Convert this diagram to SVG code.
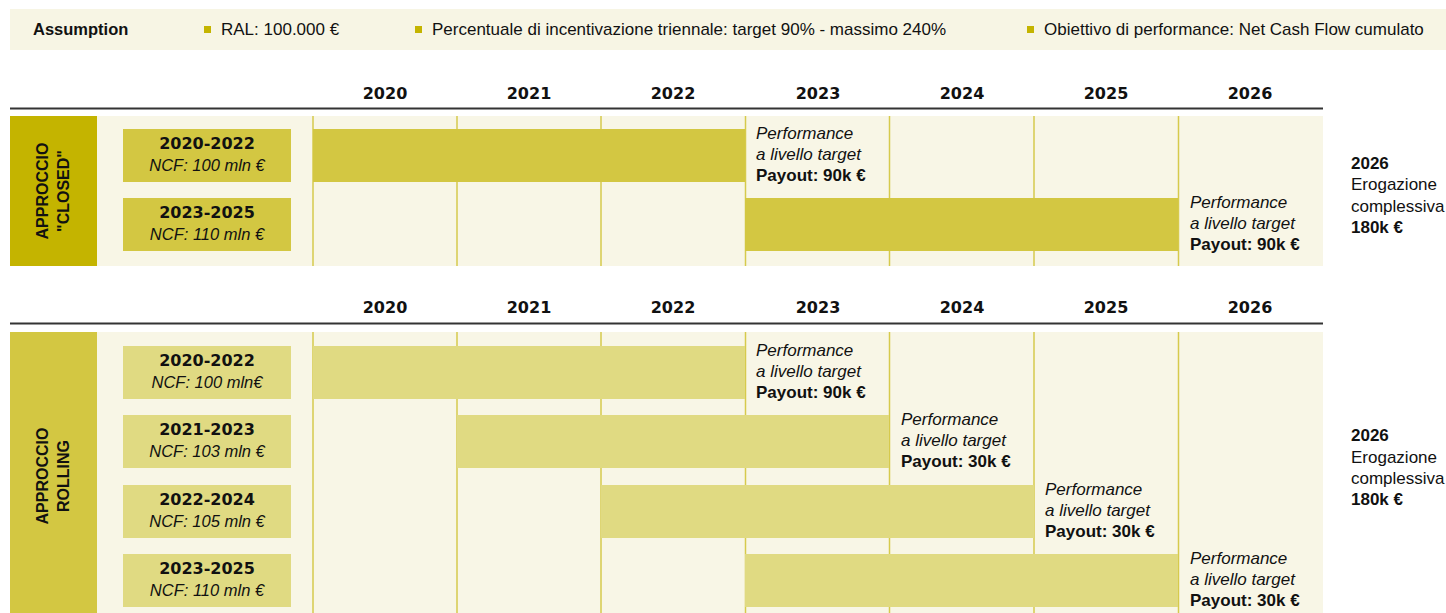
<svg xmlns="http://www.w3.org/2000/svg" width="1446" height="613" viewBox="0 0 1446 613">
<style>
text{font-family:"Liberation Sans",Arial,sans-serif;fill:#111}
.b{font-weight:bold}
.i{font-style:italic}
.w{font-family:"DejaVu Sans","Liberation Sans",sans-serif;font-weight:bold}
.yr{font-size:16px;text-anchor:middle}
.hdr{font-size:17px}
.lbt{font-size:16px;text-anchor:middle}
.lbi{font-size:16.5px;text-anchor:middle;font-style:italic}
.perf{font-size:17px}
.side{font-weight:bold;font-size:16px;text-anchor:middle}
.cream{fill:#f8f6e6}
.dk{fill:#c4b400}
.mid{fill:#d3c742}
.lt{fill:#e0da82}
.vl{stroke:#d6ca4c;stroke-width:1.5}
.hl{stroke:#333;stroke-width:2}
</style>

<!-- Assumption banner -->
<g id="banner">
<rect x="10" y="9" width="1436" height="41" fill="#f7f5e4"/>
<text x="33" y="35" class="b" font-size="16.5">Assumption</text>
<rect x="204" y="26" width="7" height="7" fill="#c4b400"/>
<text x="221" y="35" class="hdr">RAL: 100.000 €</text>
<rect x="415" y="26" width="7" height="7" fill="#c4b400"/>
<text x="432" y="35" class="hdr">Percentuale di incentivazione triennale: target 90% - massimo 240%</text>
<rect x="1027" y="26" width="7" height="7" fill="#c4b400"/>
<text x="1044" y="35" class="hdr">Obiettivo di performance: Net Cash Flow cumulato</text>
</g>

<!-- Section 1: closed -->
<g id="closed-header">
<text x="385" y="98.5" class="yr w">2020</text>
<text x="529" y="98.5" class="yr w">2021</text>
<text x="673" y="98.5" class="yr w">2022</text>
<text x="818" y="98.5" class="yr w">2023</text>
<text x="962" y="98.5" class="yr w">2024</text>
<text x="1106" y="98.5" class="yr w">2025</text>
<text x="1250" y="98.5" class="yr w">2026</text>
<line x1="10" y1="108.5" x2="1323" y2="108.5" class="hl"/>
</g>
<g id="closed-bg">
<rect x="97" y="116" width="1226" height="150" class="cream"/>
<g class="vl">
<line x1="313" y1="116" x2="313" y2="266"/>
<line x1="457" y1="116" x2="457" y2="266"/>
<line x1="601" y1="116" x2="601" y2="266"/>
<line x1="745.5" y1="116" x2="745.5" y2="266"/>
<line x1="889.5" y1="116" x2="889.5" y2="266"/>
<line x1="1034" y1="116" x2="1034" y2="266"/>
<line x1="1178.5" y1="116" x2="1178.5" y2="266"/>
</g>
</g>
<g id="closed-label">
<rect x="10" y="116" width="87" height="150" class="dk"/>
<text transform="translate(48,191) rotate(-90)" class="side">APPROCCIO</text>
<text transform="translate(69,191) rotate(-90)" class="side">"CLOSED"</text>
</g>
<g id="closed-row1">
<rect x="123" y="129" width="168" height="53" class="mid"/>
<text x="207" y="149" class="lbt w">2020-2022</text>
<text x="207" y="171" class="lbi">NCF: 100 mln €</text>
<rect x="313" y="129" width="432" height="53" class="mid"/>
<text x="756" y="139" class="perf i">Performance</text>
<text x="756" y="160" class="perf i">a livello target</text>
<text x="756" y="181" class="perf b">Payout: 90k €</text>
</g>
<g id="closed-row2">
<rect x="123" y="198" width="168" height="53" class="mid"/>
<text x="207" y="218" class="lbt w">2023-2025</text>
<text x="207" y="240" class="lbi">NCF: 110 mln €</text>
<rect x="745" y="198" width="433" height="53" class="mid"/>
<text x="1190" y="208" class="perf i">Performance</text>
<text x="1190" y="229" class="perf i">a livello target</text>
<text x="1190" y="250" class="perf b">Payout: 90k €</text>
</g>
<g id="closed-total">
<text x="1351" y="169" class="perf b">2026</text>
<text x="1351" y="190" class="perf">Erogazione</text>
<text x="1351" y="212" class="perf">complessiva</text>
<text x="1351" y="233" class="perf b">180k €</text>
</g>

<!-- Section 2: rolling -->
<g id="rolling-header">
<text x="385" y="313" class="yr w">2020</text>
<text x="529" y="313" class="yr w">2021</text>
<text x="673" y="313" class="yr w">2022</text>
<text x="818" y="313" class="yr w">2023</text>
<text x="962" y="313" class="yr w">2024</text>
<text x="1106" y="313" class="yr w">2025</text>
<text x="1250" y="313" class="yr w">2026</text>
<line x1="10" y1="323.5" x2="1323" y2="323.5" class="hl"/>
</g>
<g id="rolling-bg">
<rect x="97" y="332" width="1226" height="281" class="cream"/>
<g class="vl">
<line x1="313" y1="332" x2="313" y2="613"/>
<line x1="457" y1="332" x2="457" y2="613"/>
<line x1="601" y1="332" x2="601" y2="613"/>
<line x1="745.5" y1="332" x2="745.5" y2="613"/>
<line x1="889.5" y1="332" x2="889.5" y2="613"/>
<line x1="1034" y1="332" x2="1034" y2="613"/>
<line x1="1178.5" y1="332" x2="1178.5" y2="613"/>
</g>
</g>
<g id="rolling-label">
<rect x="10" y="332" width="87" height="281" class="mid"/>
<text transform="translate(48,476) rotate(-90)" class="side">APPROCCIO</text>
<text transform="translate(69,476) rotate(-90)" class="side">ROLLING</text>
</g>
<g id="rolling-row1">
<rect x="123" y="346" width="168" height="53" class="lt"/>
<text x="207" y="366" class="lbt w">2020-2022</text>
<text x="207" y="388" class="lbi">NCF: 100 mln€</text>
<rect x="313" y="346" width="432" height="53" class="lt"/>
<text x="756" y="356" class="perf i">Performance</text>
<text x="756" y="377" class="perf i">a livello target</text>
<text x="756" y="398" class="perf b">Payout: 90k €</text>
</g>
<g id="rolling-row2">
<rect x="123" y="415" width="168" height="53" class="lt"/>
<text x="207" y="435" class="lbt w">2021-2023</text>
<text x="207" y="457" class="lbi">NCF: 103 mln €</text>
<rect x="457" y="415" width="432" height="53" class="lt"/>
<text x="901" y="425" class="perf i">Performance</text>
<text x="901" y="446" class="perf i">a livello target</text>
<text x="901" y="467" class="perf b">Payout: 30k €</text>
</g>
<g id="rolling-row3">
<rect x="123" y="485" width="168" height="53" class="lt"/>
<text x="207" y="505" class="lbt w">2022-2024</text>
<text x="207" y="527" class="lbi">NCF: 105 mln €</text>
<rect x="601" y="485" width="433" height="53" class="lt"/>
<text x="1045" y="495" class="perf i">Performance</text>
<text x="1045" y="516" class="perf i">a livello target</text>
<text x="1045" y="537" class="perf b">Payout: 30k €</text>
</g>
<g id="rolling-row4">
<rect x="123" y="554" width="168" height="53" class="lt"/>
<text x="207" y="574" class="lbt w">2023-2025</text>
<text x="207" y="596" class="lbi">NCF: 110 mln €</text>
<rect x="745" y="554" width="433" height="53" class="lt"/>
<text x="1190" y="564" class="perf i">Performance</text>
<text x="1190" y="585" class="perf i">a livello target</text>
<text x="1190" y="606" class="perf b">Payout: 30k €</text>
</g>
<g id="rolling-total">
<text x="1351" y="441" class="perf b">2026</text>
<text x="1351" y="463" class="perf">Erogazione</text>
<text x="1351" y="484" class="perf">complessiva</text>
<text x="1351" y="505" class="perf b">180k €</text>
</g>
<g id="connectors"/>
</svg>
